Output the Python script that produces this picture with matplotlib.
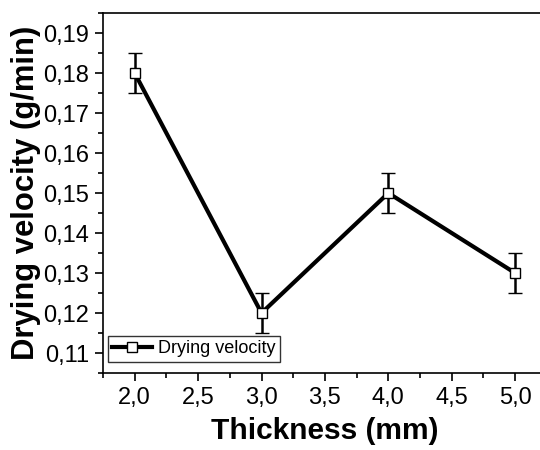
import numpy as np
import matplotlib
matplotlib.use("Agg")
import matplotlib.pyplot as plt
from matplotlib.lines import Line2D
from matplotlib.ticker import FuncFormatter, MultipleLocator

plt.rcParams['font.family'] = ['Liberation Sans', 'DejaVu Sans']

# Messwerte
thickness = [2.0, 3.0, 4.0, 5.0]
velocity = [0.18, 0.12, 0.15, 0.13]
velocity_err = [0.005, 0.005, 0.005, 0.005]

fig = plt.figure(figsize=(5.4, 4.5), dpi=100)
ax = fig.add_axes([0.1907, 0.171, 0.822, 0.80])

ax.errorbar(thickness, velocity, yerr=velocity_err, color='black', lw=3.0,
            marker='s', markersize=7, markerfacecolor='white', markeredgecolor='black',
            markeredgewidth=1.0, ecolor='black', elinewidth=1.8, capsize=4.7, capthick=2.2)

ax.set_xlim(1.75, 5.25)
ax.set_ylim(0.105, 0.195)
ax.xaxis.set_major_locator(MultipleLocator(0.5))
ax.xaxis.set_minor_locator(MultipleLocator(0.25))
ax.yaxis.set_major_locator(MultipleLocator(0.01))
ax.yaxis.set_minor_locator(MultipleLocator(0.005))

# Dezimalkomma statt Punkt
ax.xaxis.set_major_formatter(FuncFormatter(lambda v, p: f"{v:.1f}".replace('.', ',')))
ax.yaxis.set_major_formatter(FuncFormatter(lambda v, p: f"{v:.2f}".replace('.', ',')))

ax.tick_params(which='major', direction='out', length=6, width=1.2, labelsize=17, pad=4)
ax.tick_params(which='minor', direction='out', length=3.5, width=1.2)
for s in ax.spines.values():
    s.set_linewidth(1.2)

ax.set_xlabel('Thickness (mm)', fontsize=21.5, fontweight='bold', labelpad=6)
ax.set_ylabel('Drying velocity (g/min)', fontsize=22.3, fontweight='bold', labelpad=1.5)

# Legende nur mit Linie und Marker
handle = Line2D([], [], color='black', lw=3.0, marker='s', markersize=7,
                markerfacecolor='white', markeredgecolor='black', markeredgewidth=1.0)
leg = ax.legend([handle], ['Drying velocity'], loc='lower left',
                bbox_to_anchor=(0.011, 0.031), fontsize=13,
                frameon=True, fancybox=False, edgecolor='black', borderpad=0.25,
                handlelength=2.2, handletextpad=0.3, borderaxespad=0)
leg.get_frame().set_linewidth(1.0)

fig.savefig('out.png', dpi=100)
